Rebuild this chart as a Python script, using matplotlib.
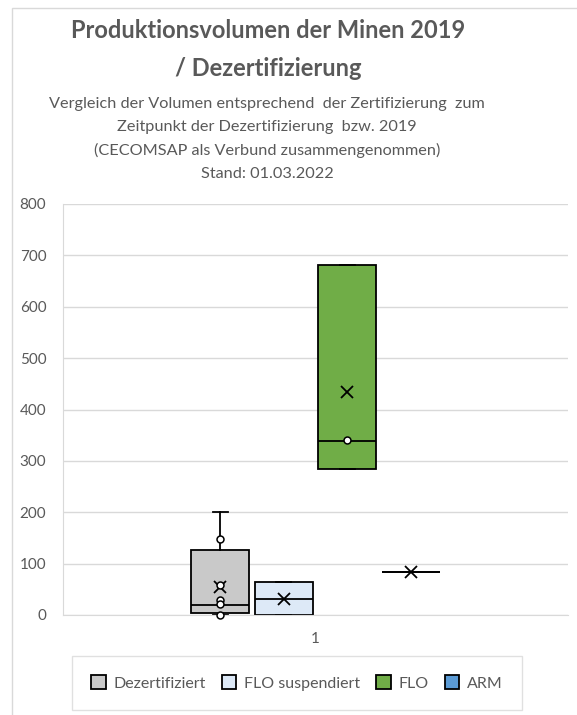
import matplotlib
matplotlib.use("Agg")
import matplotlib.pyplot as plt
from matplotlib.patches import Patch, Rectangle

plt.rcParams['font.family'] = ['Lato', 'DejaVu Sans']

# Kennwerte der Boxplots
series = ['Dezertifiziert', 'FLO suspendiert', 'FLO', 'ARM']
colors = ['#c9c9c9', '#dde9f7', '#70ad47', '#5b9bd5']
q1 = [3, 0, 285, 84]
med = [19, 31, 339, 84]
q3 = [126, 65, 681, 84]
whislo = [0, 0, 285, 84]
whishi = [200, 65, 681, 84]
means = [55, 31, 434, 84]
inner_points = [[147, 58, 29, 21, 0], [], [340], []]

yticks = [0, 100, 200, 300, 400, 500, 600, 700, 800]
category = '1'

title_lines = ['Produktionsvolumen der Minen 2019', '/ Dezertifizierung']
subtitle_lines = ['Vergleich der Volumen entsprechend  der Zertifizierung  zum',
                  'Zeitpunkt der Dezertifizierung  bzw. 2019',
                  '(CECOMSAP als Verbund zusammengenommen)',
                  'Stand: 01.03.2022']

txt = '#595959'
grid = '#d9d9d9'
W, H = 577, 715

fig = plt.figure(figsize=(W / 100, H / 100), dpi=100)
# Rahmen des Diagramms
fig.patches.append(Rectangle((12 / W, -0.1), 1.2, 1.1 - 8 / H,
                             transform=fig.transFigure, fill=False,
                             edgecolor=grid, lw=1))

ax = fig.add_axes([63 / W, 1 - 615 / H, 505 / W, 411 / H])

pos = [0.5 + (i - 1.5) * 0.1257 for i in range(len(series))]
stats = []
for i in range(len(series)):
    stats.append(dict(q1=q1[i], med=med[i], q3=q3[i], whislo=whislo[i],
                      whishi=whishi[i], mean=means[i], fliers=[]))

bp = ax.bxp(stats, positions=pos, widths=0.115, patch_artist=True,
            showmeans=True, showfliers=False, capwidths=0.03,
            boxprops=dict(edgecolor='black', linewidth=1.3),
            medianprops=dict(color='black', linewidth=1.3),
            whiskerprops=dict(color='black', linewidth=1.3),
            capprops=dict(color='black', linewidth=1.3),
            meanprops=dict(marker='x', markeredgecolor='black',
                           markersize=9, markeredgewidth=1.3))
for i, b in enumerate(bp['boxes']):
    b.set_facecolor(colors[i] if q3[i] > q1[i] else 'none')

for i, pts in enumerate(inner_points):
    if pts:
        ax.plot([pos[i]] * len(pts), pts, 'o', mfc='white', mec='black',
                ms=5, mew=1.1, clip_on=False, zorder=5)

ax.set_xlim(0, 1)
ax.set_ylim(0, 800)
ax.set_yticks(yticks)
ax.set_xticks([0.5])
ax.set_xticklabels([category])
ax.tick_params(length=0, labelsize=11, labelcolor=txt)
ax.tick_params(axis='y', pad=12)
ax.tick_params(axis='x', pad=12)
ax.grid(axis='y', color=grid, lw=1)
ax.set_axisbelow(True)
for s in ['top', 'right']:
    ax.spines[s].set_visible(False)
for s in ['left', 'bottom']:
    ax.spines[s].set_color(grid)

# Titel und Untertitel zeilenweise auf ihre Grundlinie gesetzt
for line, yb in zip(title_lines, [38, 76]):
    fig.text(268 / W, 1 - yb / H, line, ha='center', va='baseline',
             fontsize=17, fontweight='bold', color=txt)
for line, yb in zip(subtitle_lines, [108, 131.5, 155, 178.5]):
    fig.text(267 / W, 1 - yb / H, line, ha='center', va='baseline',
             fontsize=11.7, color=txt)

handles = [Patch(facecolor=c, edgecolor='black', lw=1.3) for c in colors]
leg = fig.legend(handles, series, loc='center',
                 bbox_to_anchor=(297 / W, 1 - 683 / H),
                 ncol=4, frameon=True, fancybox=False, fontsize=11.5,
                 handlelength=0.9, handleheight=0.9, handletextpad=0.5,
                 columnspacing=1.0, borderpad=1.2)
leg.get_frame().set_edgecolor(grid)
for t in leg.get_texts():
    t.set_color(txt)

fig.savefig('out.png', dpi=100)
